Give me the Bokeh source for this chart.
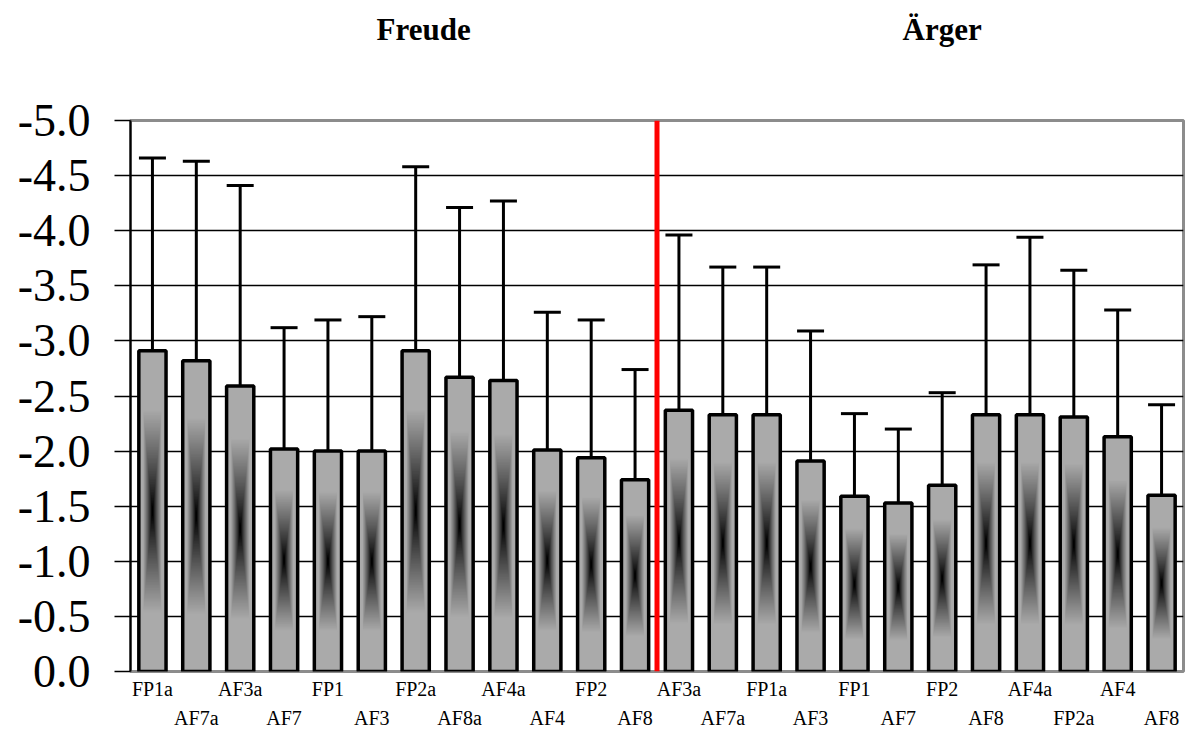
import numpy as np
from bokeh.plotting import figure
from bokeh.layouts import column
from bokeh.models import (ColumnDataSource, Range1d, FixedTicker, LinearAxis,
                          Whisker, TeeHead, Span)
from bokeh.core.properties import value
from bokeh.embed import file_html
from bokeh.resources import INLINE

# ---------------- data ----------------
group_titles = ["Freude", "Ärger"]
freude_labels = ["FP1a", "AF7a", "AF3a", "AF7", "FP1", "AF3", "FP2a", "AF8a", "AF4a", "AF4", "FP2", "AF8"]
freude_means = [-2.91, -2.82, -2.59, -2.02, -2.00, -2.00, -2.91, -2.67, -2.64, -2.01, -1.94, -1.74]
freude_upper = [-4.66, -4.63, -4.41, -3.12, -3.19, -3.22, -4.58, -4.21, -4.27, -3.26, -3.19, -2.74]
aerger_labels = ["AF3a", "AF7a", "FP1a", "AF3", "FP1", "AF7", "FP2", "AF8", "AF4a", "FP2a", "AF4", "AF8"]
aerger_means = [-2.37, -2.33, -2.33, -1.91, -1.59, -1.53, -1.69, -2.33, -2.33, -2.31, -2.13, -1.60]
aerger_upper = [-3.96, -3.67, -3.67, -3.09, -2.34, -2.20, -2.53, -3.69, -3.94, -3.64, -3.28, -2.42]
y_ticks = [0.0, -0.5, -1.0, -1.5, -2.0, -2.5, -3.0, -3.5, -4.0, -4.5, -5.0]
y_tick_labels = ["0.0", "-0.5", "-1.0", "-1.5", "-2.0", "-2.5", "-3.0", "-3.5", "-4.0", "-4.5", "-5.0"]

labels = freude_labels + aerger_labels
means = np.array(freude_means + aerger_means)
upper = np.array(freude_upper + aerger_upper)
xs = np.arange(len(labels))
n_freude = len(freude_labels)

BAR_W = 0.62
SERIF = "Liberation Serif"
TOP_H = 90

xr = Range1d(-0.5, len(labels) - 0.5)

# ---------------- title strip ----------------
tf = figure(width=1189, height=TOP_H, x_range=xr, y_range=Range1d(0, TOP_H),
            output_backend="svg", toolbar_location=None,
            min_border_left=130, min_border_right=6, min_border_top=0,
            min_border_bottom=0)
tf.axis.visible = False
tf.grid.visible = False
tf.outline_line_color = None
tf.text(x=[6.18, 18.0], y=[TOP_H - 29, TOP_H - 29], text=group_titles,
        text_align="center", text_baseline="middle", text_font=value(SERIF),
        text_font_style="bold", text_font_size="31px", text_color="black")

# ---------------- main chart ----------------
p = figure(width=1189, height=731 - TOP_H, x_range=xr,
           y_range=Range1d(0, -5), output_backend="svg", toolbar_location=None,
           min_border_left=130, min_border_right=6, min_border_top=120 - TOP_H,
           min_border_bottom=58)
p.background_fill_color = "white"
p.border_fill_color = "white"
p.outline_line_color = "#8c8c8c"
p.outline_line_width = 3

# grid
p.xgrid.visible = False
p.ygrid.ticker = FixedTicker(ticks=y_ticks[1:-1])
p.ygrid.grid_line_color = "black"
p.ygrid.grid_line_width = 1.5

# y axis
ya = p.yaxis[0]
ya.ticker = FixedTicker(ticks=y_ticks)
ya.major_label_overrides = {t: l for t, l in zip(y_ticks, y_tick_labels)}
ya.major_label_text_font = SERIF
ya.major_label_text_font_size = "46px"
ya.major_label_text_color = "black"
ya.axis_line_color = "black"
ya.axis_line_width = 2
ya.major_tick_line_color = "black"
ya.major_tick_line_width = 1.5
ya.major_tick_out = 16
ya.major_tick_in = 0
ya.minor_tick_line_color = None
ya.major_label_standoff = 24

# x axes (staggered labels)
row1 = [int(i) for i in xs[0::2]]
row2 = [int(i) for i in xs[1::2]]
xa1 = p.xaxis[0]
xa1.ticker = FixedTicker(ticks=row1)
xa1.major_label_overrides = {i: labels[i] for i in row1}
xa2 = LinearAxis(ticker=FixedTicker(ticks=row2),
                 major_label_overrides={i: labels[i] for i in row2})
p.add_layout(xa2, "below")
for ax, so in ((xa1, 6), (xa2, 4)):
    ax.axis_line_color = None
    ax.major_tick_line_color = None
    ax.minor_tick_line_color = None
    ax.major_tick_out = 0
    ax.major_tick_in = 0
    ax.major_label_standoff = so
    ax.major_label_text_font = SERIF
    ax.major_label_text_font_size = "20px"
    ax.major_label_text_color = "black"

# bars
src = ColumnDataSource(dict(x=xs, top=means, upper=upper))
p.vbar(x="x", top="top", bottom=0, width=BAR_W, source=src,
       fill_color="#aaaaaa", line_color=None)

# gradient (concentric layers darkening toward the bar centre)
mids = means / 2.0
for t in np.arange(0.64, 0.02, -0.01):
    f = max(0.0, (t - 0.03) / 0.61)
    g = int(round(170 * f ** 0.85))
    col = "#%02x%02x%02x" % (g, g, g)
    p.rect(x=xs.tolist(), y=mids.tolist(), width=BAR_W * t * 1.05,
           height=(-means * t).tolist(), fill_color=col, line_color=None)

p.vbar(x="x", top="top", bottom=0, width=BAR_W, source=src,
       fill_alpha=0, line_color="black", line_width=3.5)

# error bars
wh = Whisker(base="x", lower="top", upper="upper", source=src, dimension="height",
             line_color="black", line_width=3,
             upper_head=TeeHead(size=27, line_color="black", line_width=3),
             lower_head=None)
p.add_layout(wh)

# red separator
p.add_layout(Span(location=n_freude - 0.5, dimension="height",
                  line_color="#ff0000", line_width=5))

layout = column(tf, p, spacing=0)
open("out.html", "w").write(file_html(layout, INLINE))
